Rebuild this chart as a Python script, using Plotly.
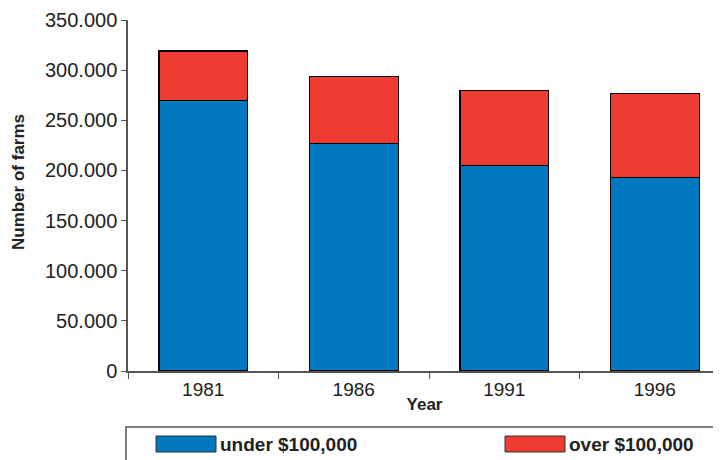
import plotly.graph_objects as go

# dados
anos = ['1981', '1986', '1991', '1996']
abaixo_100k = [270000, 227000, 205000, 193000]
acima_100k = [49000, 66500, 75000, 84000]
rotulos = ['under $100,000', 'over $100,000']

azul = '#0079C1'
vermelho = '#EE3C33'
fonte = 'Liberation Sans, Arial, sans-serif'

figura = go.Figure()
figura.add_trace(go.Bar(x=anos, y=abaixo_100k, name=rotulos[0], marker_color=azul,
                        marker_line=dict(color='black', width=1.3), width=0.59))
figura.add_trace(go.Bar(x=anos, y=acima_100k, name=rotulos[1], marker_color=vermelho,
                        marker_line=dict(color='black', width=1.3), width=0.59))

# a página tem margem de 8px no body, por isso 713x452
figura.update_layout(
    barmode='stack', width=713, height=452, showlegend=False,
    margin=dict(l=120, r=0, t=12, b=89),
    plot_bgcolor='white', paper_bgcolor='white',
    separators=',.',
    font=dict(family=fonte, color='#222'),
)
figura.update_xaxes(range=[-0.5, 3.44], showline=True, linecolor='#555', linewidth=1.5,
                    ticks='outside', tickson='boundaries', ticklen=6, tickcolor='#555',
                    tickfont=dict(size=19), showgrid=False, automargin=False,
                    title=dict(text='<b>Year</b>', font=dict(size=17), standoff=0))
figura.update_yaxes(range=[0, 350000], dtick=50000, tickformat=',', showline=True,
                    linecolor='#555', linewidth=1.5, ticks='outside', ticklen=5,
                    tickcolor='#555', tickfont=dict(size=20), showgrid=False, zeroline=False,
                    automargin=False)

# coordenadas de pixel da janela -> paper
def py(p):
    return (371 - p) / 351

def px_(p):
    return (p - 128) / 593

# título do eixo y mais afastado, como no original
figura.add_annotation(xref='paper', yref='paper', x=px_(18), y=py(182), textangle=-90,
                      text='<b>Number of farms</b>', showarrow=False,
                      xanchor='center', yanchor='middle', font=dict(size=17))

# legenda desenhada à mão (caixa larga com amostras grandes)
figura.add_shape(type='rect', xref='paper', yref='paper', x0=px_(126), x1=1.02,
                 y0=py(470), y1=py(427), line=dict(color='#555', width=1.5))
for x0, cor, texto in [(156, azul, rotulos[0]), (505, vermelho, rotulos[1])]:
    figura.add_shape(type='rect', xref='paper', yref='paper', x0=px_(x0), x1=px_(x0 + 60),
                     y0=py(452), y1=py(436), fillcolor=cor, line=dict(color='#333', width=1))
    figura.add_annotation(xref='paper', yref='paper', x=px_(x0 + 62), y=py(444),
                          text='<b>' + texto + '</b>', showarrow=False, xanchor='left',
                          yanchor='middle', font=dict(size=19))

figura.write_html('out.html')
